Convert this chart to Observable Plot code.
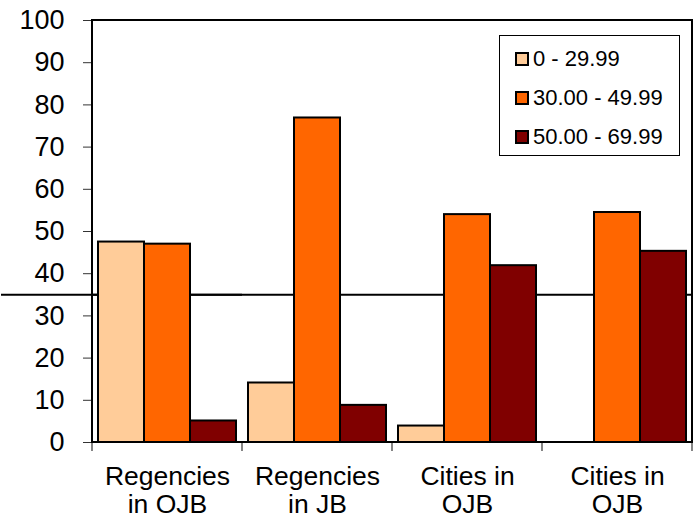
<!DOCTYPE html>
<html><head><meta charset="utf-8">
<script src="https://cdn.jsdelivr.net/npm/d3@7"></script>
<script src="https://cdn.jsdelivr.net/npm/@observablehq/plot@0.6"></script>
<style>
body{margin:0;background:#fff;font-family:"Liberation Sans",Arial,sans-serif;}
#wrap{position:relative;width:698px;height:521px;overflow:hidden;}
#legend{position:absolute;left:499px;top:35px;width:181px;height:121px;border:1px solid #000;background:#fff;box-sizing:border-box;}
.item{position:absolute;left:15px;height:22px;display:flex;align-items:center;font-size:22px;line-height:22px;color:#000;white-space:nowrap;}
.sw{width:10px;height:10px;border:2px solid #000;margin-right:4px;flex:none;}
</style></head><body><div id="wrap"></div>
<script>
// ---- data ----
const categories = ["Regencies\nin OJB", "Regencies\nin JB", "Cities in\nOJB", "Cities in\nOJB"];
const series = ["0 - 29.99", "30.00 - 49.99", "50.00 - 69.99"];
const lowValues = [47.5, 14.1, 3.9, 0];
const midValues = [47.0, 76.9, 54.0, 54.5];
const highValues = [5.1, 8.8, 41.9, 45.3];
const colors = ["#FFCC99", "#FF6600", "#800000"];
const yTicks = [0, 10, 20, 30, 40, 50, 60, 70, 80, 90, 100];
const threshold = 35;

// ---- build table ----
const keys = categories.map((c, i) => i);
const valueSets = [lowValues, midValues, highValues];
const rows = [];
keys.forEach(k => series.forEach((s, j) => rows.push({key: k, series: s, value: valueSets[j][k]})));

const W = 698, H = 521, ML = 91, MR = 6, MT = 20, MB = 79;
const FONT = "'Liberation Sans', Arial, sans-serif";

const plot = Plot.plot({
  width: W, height: H,
  marginLeft: ML, marginRight: MR, marginTop: MT, marginBottom: MB,
  style: {fontFamily: FONT, background: "white", color: "black", overflow: "visible"},
  fx: {domain: keys, padding: 0, label: null},
  x: {domain: series, paddingInner: 0, paddingOuter: 0.1, axis: null},
  y: {domain: [0, 100], label: null},
  color: {domain: series, range: colors},
  marks: [
    Plot.ruleY([threshold], {stroke: "#000", strokeWidth: 2}),
    Plot.ruleY([{key: keys[0], v: threshold}], {fx: "key", y: "v", insetLeft: -ML, stroke: "#000", strokeWidth: 2}),
    Plot.barY(rows, {fx: "key", x: "series", y: "value", fill: "series", stroke: "#000", strokeWidth: 2, filter: d => d.value > 0}),
    Plot.axisY({ticks: yTicks, tickSize: 9, tickPadding: 19, fontSize: 27, stroke: "#333", fill: "#000", label: null}),
    Plot.axisFx({anchor: "bottom", tickSize: 0, tickPadding: 22, fontSize: 26.5, lineHeight: 1.07, tickFormat: k => categories[k], label: null})
  ]
});

// frame and category boundary ticks via library scales
const svg = d3.select(plot.tagName.toLowerCase() === "svg" ? plot : plot.querySelector("svg"));
const fxs = plot.scale("fx");
const ys = plot.scale("y");
const y0 = ys.apply(0), y100 = ys.apply(100);
const bounds = keys.map(k => fxs.apply(k)).concat([fxs.apply(keys[keys.length - 1]) + fxs.bandwidth]);
svg.append("g").selectAll("line").data(bounds).join("line")
  .attr("x1", d => d).attr("x2", d => d).attr("y1", y0).attr("y2", y0 + 9)
  .attr("stroke", "#333").attr("stroke-width", 1.2);
svg.append("rect")
  .attr("x", bounds[0]).attr("y", y100)
  .attr("width", bounds[bounds.length - 1] - bounds[0]).attr("height", y0 - y100)
  .attr("fill", "none").attr("stroke", "#000").attr("stroke-width", 2);

const wrap = document.getElementById("wrap");
wrap.appendChild(plot);

// legend
const legend = document.createElement("div");
legend.id = "legend";
series.forEach((s, i) => {
  const it = document.createElement("div");
  it.className = "item";
  it.style.top = (12 + i * 39) + "px";
  const sw = document.createElement("span");
  sw.className = "sw";
  sw.style.background = colors[i];
  const tx = document.createElement("span");
  tx.textContent = s;
  it.appendChild(sw); it.appendChild(tx);
  legend.appendChild(it);
});
wrap.appendChild(legend);
</script>
</body></html>
